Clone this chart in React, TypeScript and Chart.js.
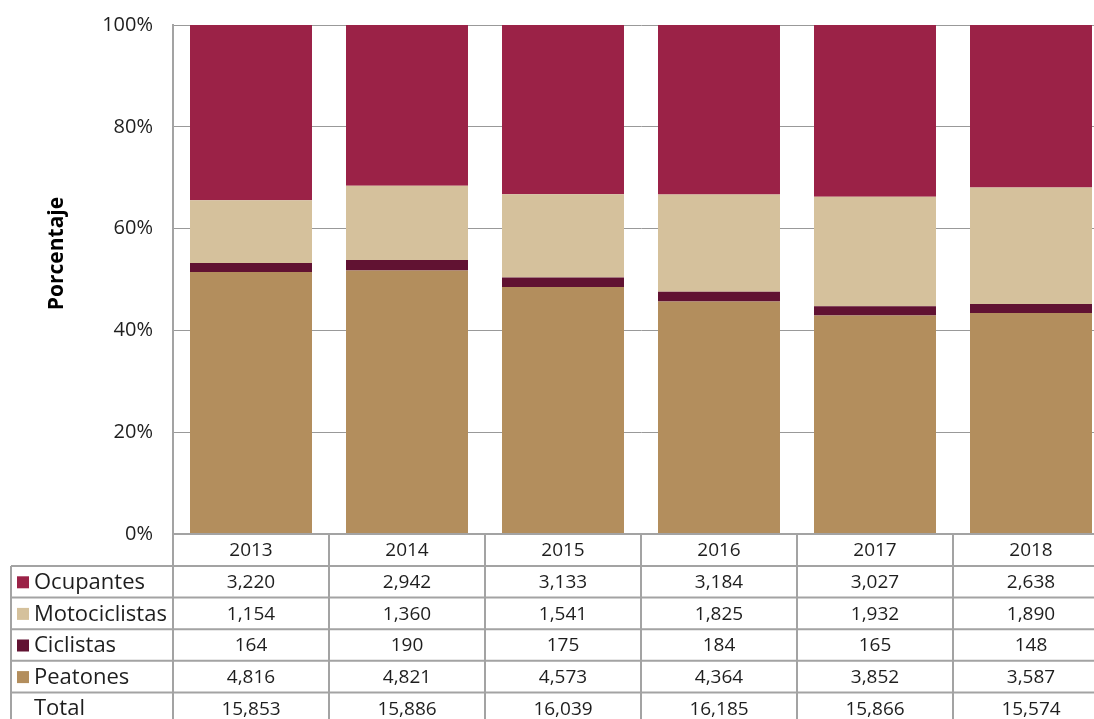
import React, { useEffect, useRef } from 'react';
import { Chart, registerables } from 'chart.js';

Chart.register(...registerables);

const categories = ['2013', '2014', '2015', '2016', '2017', '2018'];
const ocupantes = [3220, 2942, 3133, 3184, 3027, 2638];
const motociclistas = [1154, 1360, 1541, 1825, 1932, 1890];
const ciclistas = [164, 190, 175, 184, 165, 148];
const peatones = [4816, 4821, 4573, 4364, 3852, 3587];
const totales = [15853, 15886, 16039, 16185, 15866, 15574];
const yTicks = [0, 20, 40, 60, 80, 100];

const C_OCU = '#9B2247';
const C_MOTO = '#D5C19C';
const C_CIC = '#611232';
const C_PEA = '#B38E5D';

const FONT = "'Open Sans', sans-serif";
const TEXT = '#1e1e1e';
const LINE = '#A3A3A3';

const sums = categories.map((_, i) => ocupantes[i] + motociclistas[i] + ciclistas[i] + peatones[i]);
const pct = (arr: number[]) => arr.map((v, i) => (v / sums[i]) * 100);

const tableRows = [
  { label: 'Ocupantes', color: C_OCU, values: ocupantes },
  { label: 'Motociclistas', color: C_MOTO, values: motociclistas },
  { label: 'Ciclistas', color: C_CIC, values: ciclistas },
  { label: 'Peatones', color: C_PEA, values: peatones },
  { label: 'Total', color: null as string | null, values: totales },
];

const fmt = (v: number) => v.toLocaleString('en-US');

const tablePlugin = {
  id: 'dataTable',
  afterDraw(chart: any) {
    const ctx = chart.ctx as CanvasRenderingContext2D;
    const area = chart.chartArea;
    const xs = chart.scales.x;
    const n = categories.length;
    const colW = (area.right - area.left) / n;
    const top = area.bottom;
    const headerH = 32;
    const rowH = 31.6;
    const leftX = 11;
    const bottom = chart.height + 5;

    ctx.save();
    // axis title
    ctx.save();
    ctx.translate(57, 253.5);
    ctx.rotate(-Math.PI / 2);
    ctx.font = `bold 21px ${FONT}`;
    ctx.fillStyle = '#000';
    ctx.textAlign = 'center';
    ctx.textBaseline = 'middle';
    ctx.fillText('Porcentaje', 0, 0);
    ctx.restore();

    ctx.strokeStyle = LINE;
    ctx.lineWidth = 2;
    ctx.beginPath();
    ctx.moveTo(area.left, top);
    ctx.lineTo(area.right, top);
    for (let r = 0; r <= tableRows.length; r++) {
      const y = top + headerH + r * rowH;
      ctx.moveTo(leftX, y);
      ctx.lineTo(area.right, y);
    }
    for (let c = 0; c <= n; c++) {
      const x = area.left + c * colW;
      ctx.moveTo(x, top);
      ctx.lineTo(x, bottom);
    }
    ctx.moveTo(leftX, top + headerH);
    ctx.lineTo(leftX, bottom);
    ctx.stroke();

    ctx.fillStyle = TEXT;
    ctx.font = `19px ${FONT}`;
    ctx.textBaseline = 'middle';
    ctx.textAlign = 'center';
    categories.forEach((c, i) => {
      ctx.fillText(c, xs.getPixelForValue(i), top + headerH / 2 + 1);
    });

    tableRows.forEach((row, r) => {
      const yc = top + headerH + r * rowH + rowH / 2 + 1;
      if (row.color) {
        ctx.fillStyle = row.color;
        ctx.fillRect(17, yc - 6.5, 12, 12);
      }
      ctx.fillStyle = TEXT;
      ctx.textAlign = 'left';
      ctx.font = `22px ${FONT}`;
      ctx.fillText(row.label, 34, yc);
      ctx.textAlign = 'center';
      ctx.font = `19px ${FONT}`;
      row.values.forEach((v, i) => {
        ctx.fillText(fmt(v), xs.getPixelForValue(i), yc);
      });
    });
    ctx.restore();
  },
};

export default function App() {
  const ref = useRef<HTMLCanvasElement>(null);
  useEffect(() => {
    if (!ref.current) return;
    const mk = (label: string, data: number[], color: string) => ({
      label,
      data,
      backgroundColor: color,
      borderWidth: 0,
      barPercentage: 1,
      categoryPercentage: 0.782,
    });
    const chart = new Chart(ref.current, {
      type: 'bar',
      data: {
        labels: categories,
        datasets: [
          mk('Peatones', pct(peatones), C_PEA),
          mk('Ciclistas', pct(ciclistas), C_CIC),
          mk('Motociclistas', pct(motociclistas), C_MOTO),
          mk('Ocupantes', pct(ocupantes), C_OCU),
        ],
      },
      options: {
        responsive: false,
        animation: false,
        devicePixelRatio: 1,
        layout: { padding: { top: 25, right: 11, bottom: 185, left: 0 } },
        plugins: { legend: { display: false }, tooltip: { enabled: false } },
        scales: {
          x: { display: false, stacked: true },
          y: {
            stacked: true,
            min: 0,
            max: 100,
            afterBuildTicks: (s: any) => {
              s.ticks = yTicks.map((v) => ({ value: v }));
            },
            afterFit: (s: any) => {
              s.width = 173;
              s.paddingTop = 0;
              s.paddingBottom = 0;
            },
            ticks: {
              callback: (v: any) => v + '%',
              padding: 20,
              color: TEXT,
              font: { family: FONT, size: 20 },
            },
            grid: { color: '#999', lineWidth: 1, drawTicks: false },
            border: { color: LINE, width: 2 },
          },
        },
      },
      plugins: [tablePlugin],
    } as any);
    return () => chart.destroy();
  }, []);
  return (
    <div style={{ position: 'absolute', left: 0, top: 0, width: 1094, height: 719, overflow: 'hidden', background: '#fff' }}>
      <canvas ref={ref} width={1120} height={719} style={{ width: 1120, height: 719, display: 'block' }} />
    </div>
  );
}
